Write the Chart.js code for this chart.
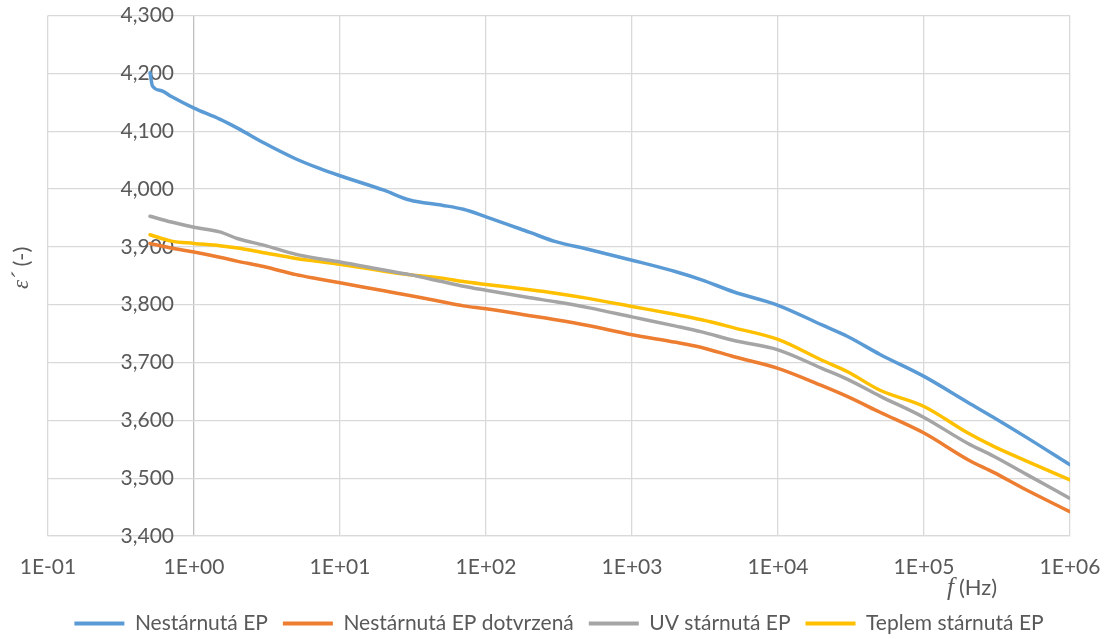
<!DOCTYPE html>
<html>
<head>
<meta charset="utf-8">
<script src="https://cdn.jsdelivr.net/npm/chart.js@4.4.1/dist/chart.umd.min.js"></script>
<style>
  html, body { margin: 0; padding: 0; background: #ffffff; }
  #wrap { width: 1106px; height: 639px; position: relative; }
</style>
</head>
<body>
<div id="wrap"><canvas id="c" width="1106" height="639"></canvas></div>
<script>
// Frequencies (Hz)
const freqs = [0.5, 0.7, 1, 1.5, 2, 3, 5, 7, 10, 20, 30, 50, 70, 100, 200, 300, 500,
  1000, 2000, 3000, 5000, 1e4, 2e4, 3e4, 5e4, 1e5, 2e5, 3e5, 5e5, 1e6];
const freqsNestarnuta = [0.5, 0.52, 0.6, 0.7, 1, 1.5, 2, 3, 5, 7, 10, 20, 30, 50, 70, 100, 200, 300, 500,
  1000, 2000, 3000, 5000, 1e4, 2e4, 3e4, 5e4, 1e5, 2e5, 3e5, 5e5, 1e6];

// Relative permittivity ε′ for each sample
const nestarnuta = [4.201, 4.178, 4.170, 4.160, 4.140, 4.121, 4.105, 4.080, 4.052, 4.037, 4.023,
  3.998, 3.981, 3.972, 3.965, 3.952, 3.925, 3.909, 3.896, 3.877, 3.857, 3.843, 3.822, 3.799,
  3.765, 3.745, 3.714, 3.676, 3.631, 3.605, 3.571, 3.523];
const nestarnutaDotvrzena = [3.906, 3.898, 3.891, 3.882, 3.875, 3.866, 3.852, 3.845, 3.838,
  3.824, 3.816, 3.805, 3.798, 3.793, 3.781, 3.774, 3.764, 3.748, 3.735, 3.726, 3.710, 3.690,
  3.660, 3.641, 3.614, 3.578, 3.532, 3.510, 3.480, 3.442];
const uvStarnuta = [3.953, 3.943, 3.934, 3.926, 3.914, 3.903, 3.887, 3.880, 3.874,
  3.860, 3.852, 3.840, 3.832, 3.825, 3.812, 3.805, 3.795, 3.779, 3.763, 3.753, 3.738, 3.722,
  3.690, 3.671, 3.642, 3.605, 3.560, 3.538, 3.507, 3.465];
const teplemStarnuta = [3.921, 3.910, 3.906, 3.902, 3.898, 3.890, 3.880, 3.875, 3.870,
  3.858, 3.852, 3.846, 3.840, 3.835, 3.826, 3.820, 3.811, 3.797, 3.783, 3.774, 3.760, 3.740,
  3.704, 3.684, 3.652, 3.624, 3.578, 3.555, 3.530, 3.497];

const seriesNames = ['Nestárnutá EP', 'Nestárnutá EP dotvrzená', 'UV stárnutá EP', 'Teplem stárnutá EP'];
const seriesColors = ['#5B9BD5', '#ED7D31', '#A5A5A5', '#FFC000'];

// Axis ticks
const xTickValues = [0.1, 1, 10, 100, 1000, 1e4, 1e5, 1e6];
const xTickLabels = ['1E-01', '1E+00', '1E+01', '1E+02', '1E+03', '1E+04', '1E+05', '1E+06'];
const yMin = 3.4, yMax = 4.3, yStep = 0.1;
// The value axis crosses the frequency axis at 1 Hz; its labels sit a little to the left of it
const yCross = 1;
const yLabelAnchor = 0.73;

const FONT = 'Lato, "Open Sans", sans-serif';
const FS = 21;
const TEXT = '#595959';

function pts(xs, ys) { return xs.map((x, i) => ({ x: x, y: ys[i] })); }

const seriesData = [
  pts(freqsNestarnuta, nestarnuta),
  pts(freqs, nestarnutaDotvrzena),
  pts(freqs, uvStarnuta),
  pts(freqs, teplemStarnuta)
];

// Axis titles with the italic symbol parts
const axisTitles = {
  id: 'axisTitles',
  afterDraw(chart) {
    const ctx = chart.ctx;
    const area = chart.chartArea;
    ctx.save();
    ctx.fillStyle = TEXT;
    ctx.textBaseline = 'middle';
    // x title: f (Hz)
    const xy = area.bottom + 52;
    let x = area.right - 123;
    ctx.font = 'italic 25px "Liberation Serif", serif';
    ctx.textAlign = 'left';
    ctx.fillText('f', x, xy);
    x += ctx.measureText('f').width + 5;
    ctx.font = '22px ' + FONT;
    ctx.fillText('(Hz)', x, xy);
    // y title: ε´ (-)
    ctx.translate(22, (area.top + area.bottom) / 2 - 8);
    ctx.rotate(-Math.PI / 2);
    ctx.textAlign = 'left';
    const epsFont = 'italic 23px "Liberation Serif", serif';
    const restFont = '22px ' + FONT;
    ctx.font = epsFont;
    const eps = 'ε´';
    const w1 = ctx.measureText(eps).width;
    ctx.font = restFont;
    const rest = ' (-)';
    const w2 = ctx.measureText(rest).width;
    const sx = -(w1 + w2) / 2;
    ctx.font = epsFont;
    ctx.fillText(eps, sx, 0);
    ctx.font = restFont;
    ctx.fillText(rest, sx + w1, 0);
    ctx.restore();
  }
};

new Chart(document.getElementById('c'), {
  type: 'line',
  data: {
    datasets: seriesNames.map((name, i) => ({
      label: name,
      data: seriesData[i],
      borderColor: seriesColors[i],
      backgroundColor: seriesColors[i],
      borderWidth: 3.5,
      pointRadius: 0,
      cubicInterpolationMode: 'monotone',
      borderCapStyle: 'round',
      borderJoinStyle: 'round'
    }))
  },
  options: {
    responsive: false,
    animation: false,
    devicePixelRatio: 1,
    layout: { padding: { left: 48, right: 36, top: -3, bottom: -5 } },
    plugins: {
      legend: {
        position: 'bottom',
        labels: {
          boxWidth: 50,
          boxHeight: 4,
          padding: 15,
          color: TEXT,
          font: { family: FONT, size: FS },
          generateLabels(chart) {
            return chart.data.datasets.map((ds, i) => ({
              text: ds.label,
              fillStyle: ds.borderColor,
              strokeStyle: ds.borderColor,
              lineWidth: 0,
              hidden: false,
              datasetIndex: i,
              fontColor: TEXT
            }));
          }
        }
      },
      tooltip: { enabled: false }
    },
    scales: {
      x: {
        type: 'logarithmic',
        min: 0.1,
        max: 1e6,
        afterBuildTicks(scale) {
          scale.ticks = xTickValues.map(v => ({ value: v }));
        },
        afterFit(scale) {
          scale.height = 62;
          scale.paddingLeft = 0;
          scale.paddingRight = 0;
        },
        ticks: {
          autoSkip: false,
          maxRotation: 0,
          padding: 19,
          color: TEXT,
          font: { family: FONT, size: FS },
          callback(value) {
            const idx = xTickValues.findIndex(v => Math.abs(Math.log10(v) - Math.log10(value)) < 1e-6);
            return idx >= 0 ? xTickLabels[idx] : '';
          }
        },
        grid: {
          color(ctx) { return (ctx.tick && ctx.tick.value === yCross) ? '#BFBFBF' : '#D9D9D9'; },
          lineWidth: 1.3,
          drawTicks: false
        },
        border: { color: '#D9D9D9', width: 1.3 }
      },
      y: {
        position: { x: yLabelAnchor },
        min: yMin,
        max: yMax,
        afterFit(scale) { scale.width = 0; },
        ticks: {
          stepSize: yStep,
          color: TEXT,
          font: { family: FONT, size: FS },
          callback(value) { return value.toFixed(3).replace('.', ','); }
        },
        grid: { color: '#D9D9D9', lineWidth: 1.3, drawTicks: false },
        border: { display: false }
      }
    }
  },
  plugins: [axisTitles]
});
</script>
</body>
</html>
